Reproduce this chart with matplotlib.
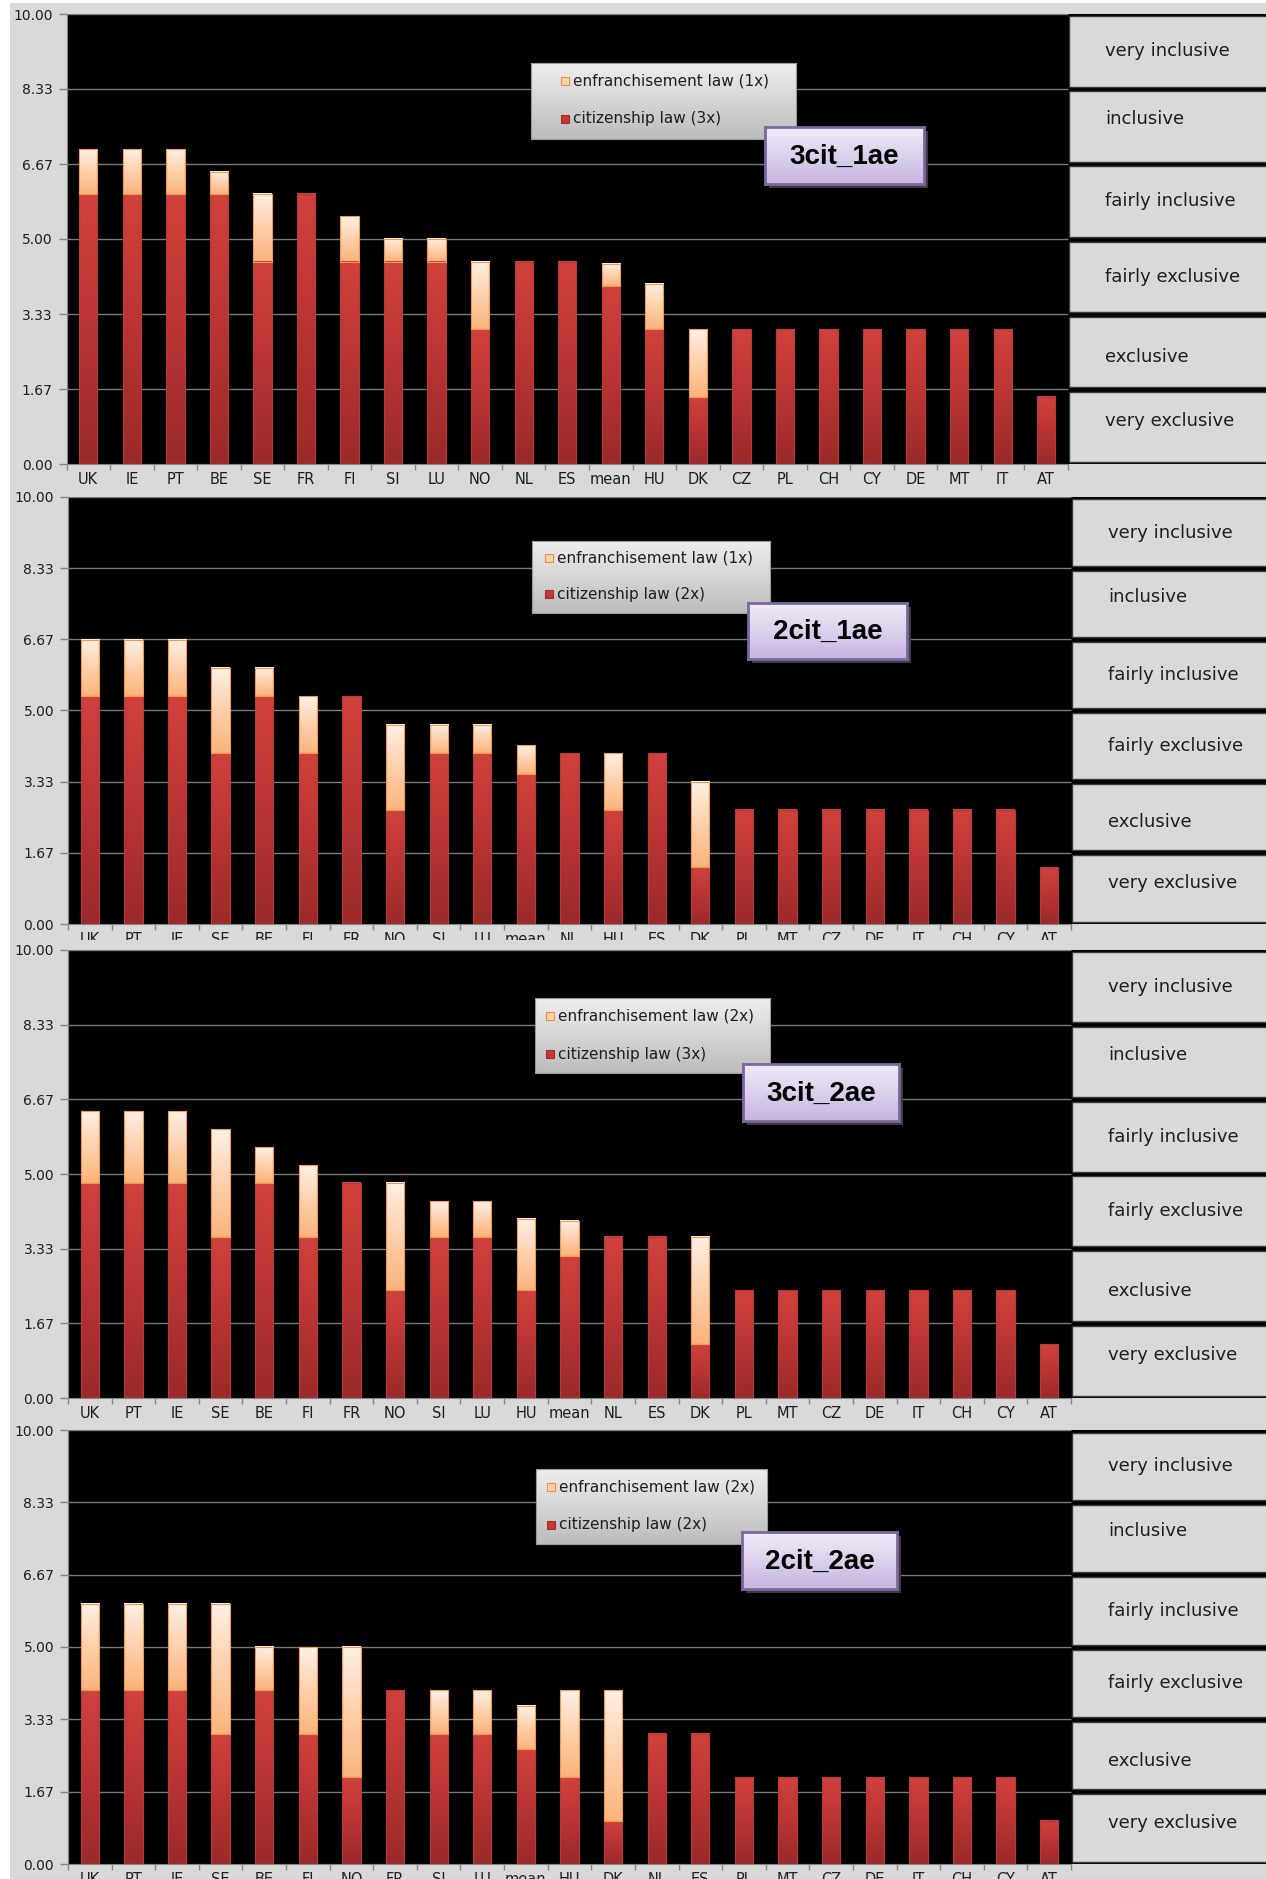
import numpy as np
import matplotlib
matplotlib.use("Agg")
import matplotlib.pyplot as plt
from matplotlib.patches import Rectangle
from matplotlib.colors import LinearSegmentedColormap

plt.rcParams['font.family'] = ['DejaVu Sans']

W, H = 1266, 1879

# 3 x citizenship law + 1 x enfranchisement law
countries_3c1a = ["UK", "IE", "PT", "BE", "SE", "FR", "FI", "SI", "LU", "NO", "NL", "ES",
                  "mean", "HU", "DK", "CZ", "PL", "CH", "CY", "DE", "MT", "IT", "AT"]
cit_3c1a = [6.0, 6.0, 6.0, 6.0, 4.5, 6.0, 4.5, 4.5, 4.5, 3.0, 4.5, 4.5,
            3.95, 3.0, 1.5, 3.0, 3.0, 3.0, 3.0, 3.0, 3.0, 3.0, 1.5]
ae_3c1a = [1.0, 1.0, 1.0, 0.5, 1.5, 0.0, 1.0, 0.5, 0.5, 1.5, 0.0, 0.0,
           0.5, 1.0, 1.5, 0.0, 0.0, 0.0, 0.0, 0.0, 0.0, 0.0, 0.0]

# 2 x citizenship law + 1 x enfranchisement law
countries_2c1a = ["UK", "PT", "IE", "SE", "BE", "FI", "FR", "NO", "SI", "LU", "mean", "NL",
                  "HU", "ES", "DK", "PL", "MT", "CZ", "DE", "IT", "CH", "CY", "AT"]
cit_2c1a = [5.33, 5.33, 5.33, 4.0, 5.33, 4.0, 5.33, 2.67, 4.0, 4.0, 3.52, 4.0,
            2.67, 4.0, 1.33, 2.67, 2.67, 2.67, 2.67, 2.67, 2.67, 2.67, 1.33]
ae_2c1a = [1.33, 1.33, 1.33, 2.0, 0.67, 1.33, 0.0, 2.0, 0.67, 0.67, 0.67, 0.0,
           1.33, 0.0, 2.0, 0.0, 0.0, 0.0, 0.0, 0.0, 0.0, 0.0, 0.0]

# 3 x citizenship law + 2 x enfranchisement law
countries_3c2a = ["UK", "PT", "IE", "SE", "BE", "FI", "FR", "NO", "SI", "LU", "HU", "mean",
                  "NL", "ES", "DK", "PL", "MT", "CZ", "DE", "IT", "CH", "CY", "AT"]
cit_3c2a = [4.8, 4.8, 4.8, 3.6, 4.8, 3.6, 4.8, 2.4, 3.6, 3.6, 2.4, 3.16,
            3.6, 3.6, 1.2, 2.4, 2.4, 2.4, 2.4, 2.4, 2.4, 2.4, 1.2]
ae_3c2a = [1.6, 1.6, 1.6, 2.4, 0.8, 1.6, 0.0, 2.4, 0.8, 0.8, 1.6, 0.8,
           0.0, 0.0, 2.4, 0.0, 0.0, 0.0, 0.0, 0.0, 0.0, 0.0, 0.0]

# 2 x citizenship law + 2 x enfranchisement law
countries_2c2a = ["UK", "PT", "IE", "SE", "BE", "FI", "NO", "FR", "SI", "LU", "mean", "HU",
                  "DK", "NL", "ES", "PL", "MT", "CZ", "DE", "IT", "CH", "CY", "AT"]
cit_2c2a = [4.0, 4.0, 4.0, 3.0, 4.0, 3.0, 2.0, 4.0, 3.0, 3.0, 2.64, 2.0,
            1.0, 3.0, 3.0, 2.0, 2.0, 2.0, 2.0, 2.0, 2.0, 2.0, 1.0]
ae_2c2a = [2.0, 2.0, 2.0, 3.0, 1.0, 2.0, 3.0, 0.0, 1.0, 1.0, 1.0, 2.0,
           3.0, 0.0, 0.0, 0.0, 0.0, 0.0, 0.0, 0.0, 0.0, 0.0, 0.0]

bands = ["very exclusive", "exclusive", "fairly exclusive",
         "fairly inclusive", "inclusive", "very inclusive"]
band_text_shift = [0.07, -0.07, 0.0, 0.0, 0.1, 0.0]

cit_cmap = LinearSegmentedColormap.from_list("cit", ["#9b2a2a", "#b93434", "#d0413c"])
ae_cmap = LinearSegmentedColormap.from_list("ae", ["#fbb47c", "#fdd0ab", "#fff1e6"])
legend_cmap = LinearSegmentedColormap.from_list("leg", ["#eeeeee", "#bcbcbc"])
tag_cmap = LinearSegmentedColormap.from_list("tag", ["#f1ecf8", "#c6b6e1"])
GRAD = np.linspace(0, 1, 128).reshape(-1, 1)
GREY = "#868686"
BG = "#d9d9d9"
TXT = "#1e1e1e"


def px_axes(x0, y0, x1, y1, z):
    """Axes placed by pixel box (top-left origin), with pixel data coords."""
    ax = fig.add_axes([x0 / W, 1 - y1 / H, (x1 - x0) / W, (y1 - y0) / H], zorder=z)
    ax.set_xlim(0, x1 - x0)
    ax.set_ylim(y1 - y0, 0)
    return ax


def draw_legend(box, marker_x, text_x, rows, labels, z):
    x0, y0, x1, y1 = box
    lax = px_axes(x0, y0, x1, y1, z)
    lax.imshow(GRAD, extent=(0, x1 - x0, y1 - y0, 0), cmap=legend_cmap, aspect="auto")
    lax.set_xticks([])
    lax.set_yticks([])
    for s in lax.spines.values():
        s.set_color("#9a9a9a")
        s.set_linewidth(0.8)
    fills = [("#fdd3ae", "#f08c3c"), ("#c33a33", "#a02c2c")]
    for (fc, ec), ry, lab in zip(fills, rows, labels):
        lax.add_patch(Rectangle((marker_x - x0 - 4, ry - y0 - 4), 8, 8,
                                facecolor=fc, edgecolor=ec, lw=0.8))
        lax.text(text_x - x0, ry - y0, lab, fontsize=11, color=TXT,
                 va="center", ha="left")


def draw_tag(box, text, z):
    x0, y0, x1, y1 = box
    sh = px_axes(x0 + 4, y0 + 4, x1 + 4, y1 + 4, z)
    sh.set_facecolor("#3c3c3c")
    sh.set_xticks([])
    sh.set_yticks([])
    for s in sh.spines.values():
        s.set_visible(False)
    tax = px_axes(x0, y0, x1, y1, z + 0.1)
    tax.imshow(GRAD, extent=(0, x1 - x0, y1 - y0, 0), cmap=tag_cmap, aspect="auto")
    tax.set_xticks([])
    tax.set_yticks([])
    for s in tax.spines.values():
        s.set_color("#7e66a3")
        s.set_linewidth(2)
    tax.text((x1 - x0) / 2, (y1 - y0) / 2 + 1, text, fontsize=20, fontweight="bold",
             family=["Liberation Sans", "DejaVu Sans"], color="black",
             ha="center", va="center")


def draw_panel(z, y_top, y_bot, x_left, x_right, countries, cit, ae,
               legend_box, marker_x, text_x, legend_rows, legend_labels,
               tag_box, tag_text, frame_top=None):
    # each sheet is pasted over the bottom edge of the one above it
    if frame_top is not None:
        fig.add_artist(Rectangle((10 / W, 1 - (y_top - 1) / H), 1, (y_top - 1 - frame_top) / H,
                                 transform=fig.transFigure, facecolor=BG,
                                 edgecolor="none", zorder=z - 0.5))
    ax = fig.add_axes([x_left / W, 1 - y_bot / H, (W - x_left) / W, (y_bot - y_top) / H],
                      zorder=z)
    n = len(countries)
    ppu = (x_right - x_left) / n
    ppy = (y_bot - y_top) / 10.0
    xmax = n - 0.5 + (W - x_right) / ppu
    ax.set_facecolor("black")

    yt = np.linspace(0, 10, 7)
    ax.hlines(yt[1:], -0.5, n - 0.5, color="#7a7a7a", lw=1, zorder=1)

    bw = 0.42
    for i, (c, a) in enumerate(zip(cit, ae)):
        segs = [(0.0, c, cit_cmap, "#b83a36"), (c, c + a, ae_cmap, "#f39a52")]
        for lo, hi, cm, ec in segs:
            if hi - lo <= 0:
                continue
            ax.imshow(GRAD, extent=(i - bw / 2, i + bw / 2, lo, hi), origin="lower",
                      cmap=cm, aspect="auto", zorder=2, interpolation="bilinear")
            ax.add_patch(Rectangle((i - bw / 2, lo), bw, hi - lo, fill=False,
                                   edgecolor=ec, lw=0.8, zorder=3))

    # category boxes on the right
    gx = 1.0 / ppu
    gy = 2.5 / ppy
    for k, name in enumerate(bands):
        lo, hi = yt[k], yt[k + 1]
        ax.add_patch(Rectangle((n - 0.5 + gx, lo + gy), xmax - (n - 0.5), hi - lo - 2 * gy,
                               facecolor=BG, edgecolor="#3a3a3a", lw=1, zorder=4))
        ax.text(n - 0.5 + 37 / ppu, (lo + hi) / 2 + band_text_shift[k] * (hi - lo), name,
                fontsize=13, color=TXT, va="center", ha="left", zorder=5)

    ax.set_xlim(-0.5, xmax)
    ax.set_ylim(0, 10)
    ax.set_yticks(yt)
    ax.set_yticklabels([f"{v:.2f}" for v in yt])
    ax.tick_params(axis="y", length=6, width=1, color=GREY, pad=4,
                   labelsize=10, labelcolor=TXT)
    ax.set_xticks(np.arange(-0.5, n, 1.0))
    ax.set_xticklabels([])
    ax.set_xticks(np.arange(n), minor=True)
    ax.set_xticklabels(countries, minor=True)
    ax.tick_params(axis="x", which="major", length=4, width=1, color=GREY)
    ax.tick_params(axis="x", which="minor", length=0, pad=6,
                   labelsize=10.5, labelcolor=TXT)
    for side in ["top", "right"]:
        ax.spines[side].set_visible(False)
    ax.spines["left"].set_color(GREY)
    ax.spines["bottom"].set_color(GREY)
    ax.spines["bottom"].set_bounds(-0.5, n - 0.5)

    draw_legend(legend_box, marker_x, text_x, legend_rows, legend_labels, z + 0.2)
    draw_tag(tag_box, tag_text, z + 0.3)


fig = plt.figure(figsize=(W / 100, H / 100), dpi=100, facecolor="white")
fig.patches.append(Rectangle((10 / W, 0), 1, 1 - 3 / H, transform=fig.transFigure,
                             facecolor=BG, edgecolor="none", zorder=-10))

draw_panel(1, 14, 464, 66.5, 1068, countries_3c1a, cit_3c1a, ae_3c1a,
           (531, 63, 796, 139), 565, 573, (81, 119),
           ["enfranchisement law (1x)", "citizenship law (3x)"],
           (765, 127, 924, 184), "3cit_1ae")
draw_panel(2, 497, 924, 68, 1071, countries_2c1a, cit_2c1a, ae_2c1a,
           (532, 541, 770, 613), 549, 557, (558, 594),
           ["enfranchisement law (1x)", "citizenship law (2x)"],
           (748, 603, 907, 659), "2cit_1ae")
draw_panel(3, 950, 1398, 68, 1071, countries_3c2a, cit_3c2a, ae_3c2a,
           (535, 998, 770, 1073), 550, 558, (1016, 1054),
           ["enfranchisement law (2x)", "citizenship law (3x)"],
           (743, 1064, 899, 1121), "3cit_2ae", frame_top=940)
draw_panel(4, 1430, 1864, 68, 1071, countries_2c2a, cit_2c2a, ae_2c2a,
           (536, 1469, 767, 1544), 551, 559, (1487, 1525),
           ["enfranchisement law (2x)", "citizenship law (2x)"],
           (742, 1532, 897, 1589), "2cit_2ae")

fig.savefig("out.png", dpi=100, facecolor=fig.get_facecolor())
plt.close(fig)
